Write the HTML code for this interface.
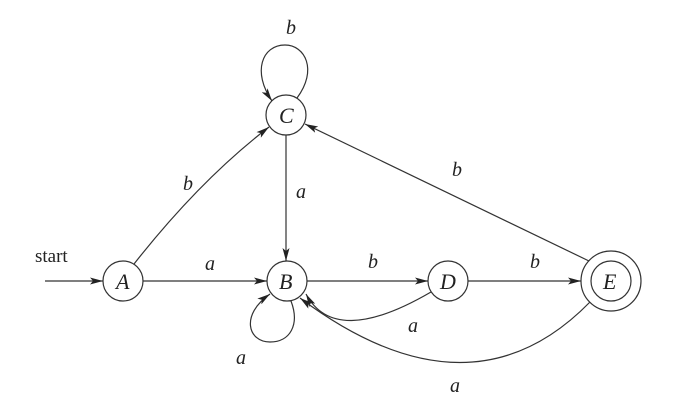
<!DOCTYPE html>
<html><head><style>
html,body{margin:0;padding:0;background:#fff;}
svg{display:block;}
text{font-family:"Liberation Serif",serif;fill:#222;}
.l{font-style:italic;font-size:20px;}
.n{font-style:italic;font-size:22px;}
</style></head><body>
<svg width="682" height="419" viewBox="0 0 682 419" xmlns="http://www.w3.org/2000/svg">
<defs>
<marker id="ar" markerWidth="14" markerHeight="8" refX="13" refY="4" orient="auto" markerUnits="userSpaceOnUse">
<path d="M0,0.5 L13,4 L0,7.5 L3,4 Z" fill="#222"/>
</marker>
</defs>
<g fill="none" stroke="#333" stroke-width="1.2">
<circle cx="123" cy="281" r="20"/>
<circle cx="287" cy="281" r="20"/>
<circle cx="286" cy="115" r="20"/>
<circle cx="448" cy="281" r="20"/>
<circle cx="611" cy="281" r="30"/>
<circle cx="611" cy="281" r="20"/>
<line x1="45" y1="281" x2="103" y2="281" marker-end="url(#ar)"/>
<line x1="143" y1="281" x2="267" y2="281" marker-end="url(#ar)"/>
<line x1="307" y1="281" x2="428" y2="281" marker-end="url(#ar)"/>
<line x1="468" y1="281" x2="581" y2="281" marker-end="url(#ar)"/>
<line x1="286" y1="135" x2="286" y2="261" marker-end="url(#ar)"/>
<path d="M134,264 Q200,180 269,127" marker-end="url(#ar)"/>
<path d="M589,261 L305,124" marker-end="url(#ar)"/>
<path d="M297,98 C318,70 305,45 285,45 C262,45 252,72 272,101" marker-end="url(#ar)"/>
<path d="M431,292 Q335,348 306,294" marker-end="url(#ar)"/>
<path d="M590,302 Q470,425 300,298" marker-end="url(#ar)"/>
<path d="M291,301 C300,325 290,342 270,342 C248,342 240,315 270,294" marker-end="url(#ar)"/>
</g>
<text x="35" y="262" style="font-size:19px">start</text>
<text class="n" x="116" y="289">A</text>
<text class="n" x="279" y="289">B</text>
<text class="n" x="279" y="123">C</text>
<text class="n" x="440" y="289">D</text>
<text class="n" x="603" y="289">E</text>
<text class="l" x="286" y="34">b</text>
<text class="l" x="183" y="190">b</text>
<text class="l" x="296" y="198">a</text>
<text class="l" x="452" y="176">b</text>
<text class="l" x="205" y="270">a</text>
<text class="l" x="368" y="268">b</text>
<text class="l" x="530" y="268">b</text>
<text class="l" x="408" y="332">a</text>
<text class="l" x="236" y="364">a</text>
<text class="l" x="450" y="392">a</text>
</svg>
</body></html>
